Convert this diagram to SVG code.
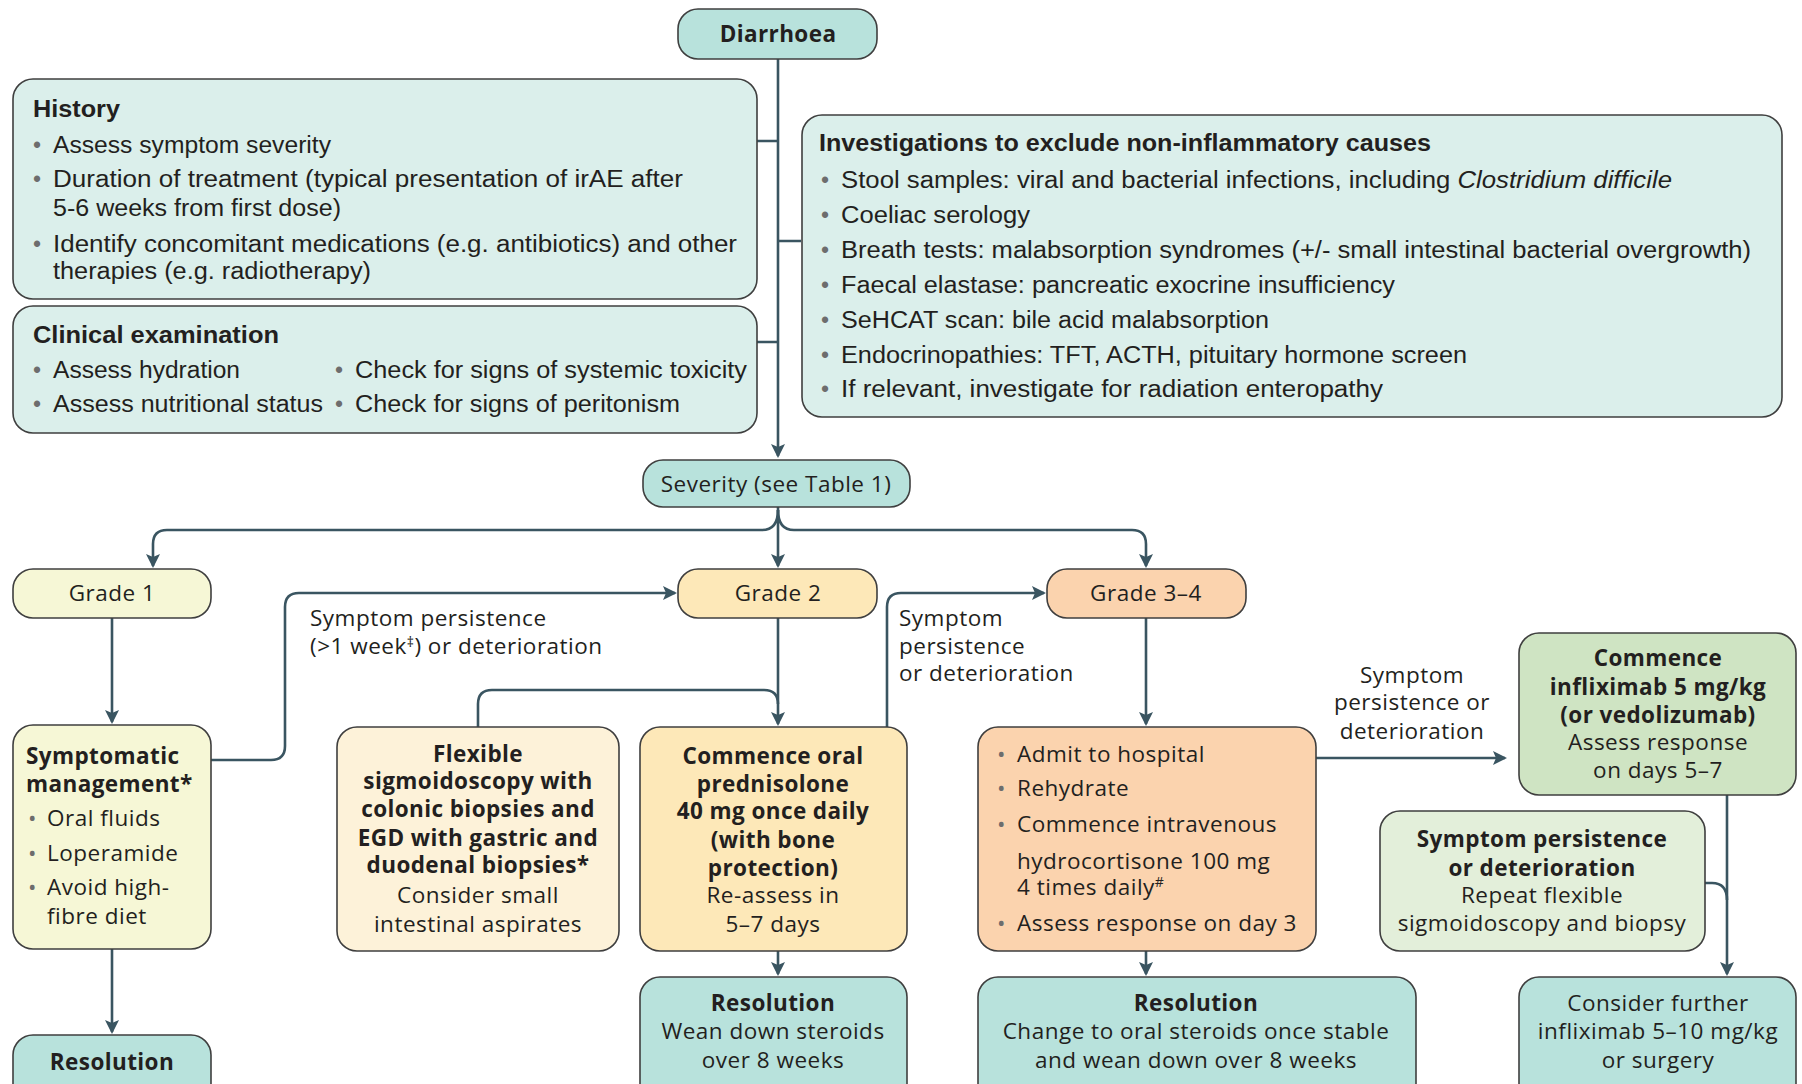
<svg xmlns="http://www.w3.org/2000/svg" width="1802" height="1084" viewBox="0 0 1802 1084">
<style>
.box{stroke:#3f3f3f;stroke-width:1.6}
.teal{fill:#b8e2dc}.lteal{fill:#dbefeb}.g1{fill:#f6f7d6}.g2{fill:#fde8b8}.flex{fill:#fdf2d9}.g3{fill:#fbd3ae}.inf{fill:#cfe4c3}.sp{fill:#e3efda}
.c{stroke:#3a5561;stroke-width:2.6;fill:none}
.t{font-family:"Liberation Sans",Arial,sans-serif;font-size:23px;fill:#231f20}
.tb{font-family:"Liberation Sans",Arial,sans-serif;font-size:23px;font-weight:bold;fill:#231f20}
.b{font-family:"Open Sans","Noto Sans",sans-serif;font-size:22.5px;letter-spacing:0.5px;fill:#231f20}
.bb{font-family:"Open Sans","Noto Sans",sans-serif;font-size:22.5px;letter-spacing:0.4px;font-weight:bold;fill:#231f20}
.m{text-anchor:middle}
.dot{fill:#6d6d6d}
</style>
<defs>
<marker id="ah" markerUnits="userSpaceOnUse" markerWidth="16" markerHeight="16" refX="12" refY="7" orient="auto">
<path d="M0,0 L14,7 L0,14 L3,7 z" fill="#3a5561"/>
</marker>
</defs>

<g id="connectors">
<path class="c" d="M778,59 V456" marker-end="url(#ah)"/>
<path class="c" d="M757,141 H778 M801,241 H778 M757,342 H778"/>
<path class="c" d="M778,507 V566" marker-end="url(#ah)"/>
<path class="c" d="M778,510 Q778,530 762,530 H167 Q153,530 153,544 V566" marker-end="url(#ah)"/>
<path class="c" d="M778,510 Q778,530 794,530 H1132 Q1146,530 1146,544 V566" marker-end="url(#ah)"/>
<path class="c" d="M112,618 V722" marker-end="url(#ah)"/>
<path class="c" d="M112,949 V1032" marker-end="url(#ah)"/>
<path class="c" d="M211,760 H271 Q285,760 285,746 V607 Q285,593 299,593 H675" marker-end="url(#ah)"/>
<path class="c" d="M778,618 V724" marker-end="url(#ah)"/>
<path class="c" d="M478,727 V704 Q478,690 492,690 H764 Q778,690 778,704"/>
<path class="c" d="M778,951 V974" marker-end="url(#ah)"/>
<path class="c" d="M887,727 V607 Q887,593 901,593 H1044" marker-end="url(#ah)"/>
<path class="c" d="M1146,618 V724" marker-end="url(#ah)"/>
<path class="c" d="M1146,951 V974" marker-end="url(#ah)"/>
<path class="c" d="M1316,758 H1505" marker-end="url(#ah)"/>
<path class="c" d="M1727,795 V974" marker-end="url(#ah)"/>
<path class="c" d="M1705,883 H1712 Q1727,883 1727,900"/>
</g>

<g id="diarrhoea">
<rect class="box teal" x="678" y="9" width="199" height="50" rx="20"/>
<text class="bb m" x="778" y="42">Diarrhoea</text>
</g>

<g id="history">
<rect class="box lteal" x="13" y="79" width="744" height="220" rx="20"/>
<text class="tb" x="33" y="117" textLength="87" lengthAdjust="spacingAndGlyphs">History</text>
<text class="t dot" x="33" y="153">•</text><text class="t" x="53" y="153" textLength="278" lengthAdjust="spacingAndGlyphs">Assess symptom severity</text>
<text class="t dot" x="33" y="187">•</text><text class="t" x="53" y="187" textLength="630" lengthAdjust="spacingAndGlyphs">Duration of treatment (typical presentation of irAE after</text>
<text class="t" x="53" y="216" textLength="288" lengthAdjust="spacingAndGlyphs">5-6 weeks from first dose)</text>
<text class="t dot" x="33" y="252">•</text><text class="t" x="53" y="252" textLength="684" lengthAdjust="spacingAndGlyphs">Identify concomitant medications (e.g. antibiotics) and other</text>
<text class="t" x="53" y="279" textLength="318" lengthAdjust="spacingAndGlyphs">therapies (e.g. radiotherapy)</text>
</g>

<g id="clinical">
<rect class="box lteal" x="13" y="306" width="744" height="127" rx="20"/>
<text class="tb" x="33" y="343" textLength="246" lengthAdjust="spacingAndGlyphs">Clinical examination</text>
<text class="t dot" x="33" y="378">•</text><text class="t" x="53" y="378" textLength="187" lengthAdjust="spacingAndGlyphs">Assess hydration</text>
<text class="t dot" x="335" y="378">•</text><text class="t" x="355" y="378" textLength="392" lengthAdjust="spacingAndGlyphs">Check for signs of systemic toxicity</text>
<text class="t dot" x="33" y="412">•</text><text class="t" x="53" y="412" textLength="270" lengthAdjust="spacingAndGlyphs">Assess nutritional status</text>
<text class="t dot" x="335" y="412">•</text><text class="t" x="355" y="412" textLength="325" lengthAdjust="spacingAndGlyphs">Check for signs of peritonism</text>
</g>

<g id="investigations">
<rect class="box lteal" x="802" y="115" width="980" height="302" rx="20"/>
<text class="tb" x="819" y="151" textLength="612" lengthAdjust="spacingAndGlyphs">Investigations to exclude non-inflammatory causes</text>
<text class="t dot" x="821" y="188">•</text><text class="t" x="841" y="188" textLength="831" lengthAdjust="spacingAndGlyphs">Stool samples: viral and bacterial infections, including <tspan font-style="italic">Clostridium difficile</tspan></text>
<text class="t dot" x="821" y="223">•</text><text class="t" x="841" y="223" textLength="189" lengthAdjust="spacingAndGlyphs">Coeliac serology</text>
<text class="t dot" x="821" y="258">•</text><text class="t" x="841" y="258" textLength="910" lengthAdjust="spacingAndGlyphs">Breath tests: malabsorption syndromes (+/- small intestinal bacterial overgrowth)</text>
<text class="t dot" x="821" y="293">•</text><text class="t" x="841" y="293" textLength="554" lengthAdjust="spacingAndGlyphs">Faecal elastase: pancreatic exocrine insufficiency</text>
<text class="t dot" x="821" y="328">•</text><text class="t" x="841" y="328" textLength="428" lengthAdjust="spacingAndGlyphs">SeHCAT scan: bile acid malabsorption</text>
<text class="t dot" x="821" y="363">•</text><text class="t" x="841" y="363" textLength="626" lengthAdjust="spacingAndGlyphs">Endocrinopathies: TFT, ACTH, pituitary hormone screen</text>
<text class="t dot" x="821" y="397">•</text><text class="t" x="841" y="397" textLength="542" lengthAdjust="spacingAndGlyphs">If relevant, investigate for radiation enteropathy</text>
</g>

<g id="severity">
<rect class="box teal" x="643" y="460" width="267" height="47" rx="20"/>
<text class="b m" x="776" y="492">Severity (see Table 1)</text>
</g>

<g id="grade1">
<rect class="box g1" x="13" y="569" width="198" height="49" rx="20"/>
<text class="b m" x="112" y="601">Grade 1</text>
</g>
<g id="grade2">
<rect class="box g2" x="678" y="569" width="199" height="49" rx="20"/>
<text class="b m" x="778" y="601">Grade 2</text>
</g>
<g id="grade34">
<rect class="box g3" x="1047" y="569" width="199" height="49" rx="20"/>
<text class="b m" x="1146" y="601">Grade 3–4</text>
</g>

<g id="label1">
<text class="b" x="310" y="626">Symptom persistence</text>
<text class="b" x="310" y="654">(&gt;1 week<tspan font-size="14" dy="-7">‡</tspan><tspan dy="7">) or deterioration</tspan></text>
</g>
<g id="label2">
<text class="b" x="899" y="626">Symptom</text>
<text class="b" x="899" y="654">persistence</text>
<text class="b" x="899" y="681">or deterioration</text>
</g>
<g id="label3">
<text class="b m" x="1412" y="683">Symptom</text>
<text class="b m" x="1412" y="710">persistence or</text>
<text class="b m" x="1412" y="739">deterioration</text>
</g>

<g id="symptomatic">
<rect class="box g1" x="13" y="725" width="198" height="224" rx="20"/>
<text class="bb" x="26" y="764">Symptomatic</text>
<text class="bb" x="26" y="792">management*</text>
<text class="b dot" x="28" y="826">•</text><text class="b" x="47" y="826">Oral fluids</text>
<text class="b dot" x="28" y="861">•</text><text class="b" x="47" y="861">Loperamide</text>
<text class="b dot" x="28" y="895">•</text><text class="b" x="47" y="895">Avoid high-</text>
<text class="b" x="47" y="924">fibre diet</text>
</g>

<g id="resolution1">
<rect class="box teal" x="13" y="1035" width="198" height="70" rx="20"/>
<text class="bb m" x="112" y="1070">Resolution</text>
</g>

<g id="flexible">
<rect class="box flex" x="337" y="727" width="282" height="224" rx="20"/>
<text class="bb m" x="478" y="762">Flexible</text>
<text class="bb m" x="478" y="789">sigmoidoscopy with</text>
<text class="bb m" x="478" y="817">colonic biopsies and</text>
<text class="bb m" x="478" y="846">EGD with gastric and</text>
<text class="bb m" x="478" y="873">duodenal biopsies*</text>
<text class="b m" x="478" y="903">Consider small</text>
<text class="b m" x="478" y="932">intestinal aspirates</text>
</g>

<g id="prednisolone">
<rect class="box g2" x="640" y="727" width="267" height="224" rx="20"/>
<text class="bb m" x="773" y="764">Commence oral</text>
<text class="bb m" x="773" y="792">prednisolone</text>
<text class="bb m" x="773" y="819">40 mg once daily</text>
<text class="bb m" x="773" y="848">(with bone</text>
<text class="bb m" x="773" y="876">protection)</text>
<text class="b m" x="773" y="903">Re-assess in</text>
<text class="b m" x="773" y="932">5–7 days</text>
</g>

<g id="resolution2">
<rect class="box teal" x="640" y="977" width="267" height="128" rx="20"/>
<text class="bb m" x="773" y="1011">Resolution</text>
<text class="b m" x="773" y="1039">Wean down steroids</text>
<text class="b m" x="773" y="1068">over 8 weeks</text>
</g>

<g id="admit">
<rect class="box g3" x="978" y="727" width="338" height="224" rx="20"/>
<text class="b dot" x="997" y="762">•</text><text class="b" x="1017" y="762">Admit to hospital</text>
<text class="b dot" x="997" y="796">•</text><text class="b" x="1017" y="796">Rehydrate</text>
<text class="b dot" x="997" y="832">•</text><text class="b" x="1017" y="832">Commence intravenous</text>
<text class="b" x="1017" y="869">hydrocortisone 100 mg</text>
<text class="b" x="1017" y="895">4 times daily<tspan font-size="14" dy="-8">#</tspan></text>
<text class="b dot" x="997" y="931">•</text><text class="b" x="1017" y="931">Assess response on day 3</text>
</g>

<g id="resolution3">
<rect class="box teal" x="978" y="977" width="438" height="128" rx="20"/>
<text class="bb m" x="1196" y="1011">Resolution</text>
<text class="b m" x="1196" y="1039">Change to oral steroids once stable</text>
<text class="b m" x="1196" y="1068">and wean down over 8 weeks</text>
</g>

<g id="infliximab">
<rect class="box inf" x="1519" y="633" width="277" height="162" rx="20"/>
<text class="bb m" x="1658" y="666">Commence</text>
<text class="bb m" x="1658" y="695">infliximab 5 mg/kg</text>
<text class="bb m" x="1658" y="723">(or vedolizumab)</text>
<text class="b m" x="1658" y="750">Assess response</text>
<text class="b m" x="1658" y="778">on days 5–7</text>
</g>

<g id="persistence">
<rect class="box sp" x="1380" y="811" width="325" height="140" rx="20"/>
<text class="bb m" x="1542" y="847">Symptom persistence</text>
<text class="bb m" x="1542" y="876">or deterioration</text>
<text class="b m" x="1542" y="903">Repeat flexible</text>
<text class="b m" x="1542" y="931">sigmoidoscopy and biopsy</text>
</g>

<g id="further">
<rect class="box teal" x="1519" y="977" width="277" height="128" rx="20"/>
<text class="b m" x="1658" y="1011">Consider further</text>
<text class="b m" x="1658" y="1039">infliximab 5–10 mg/kg</text>
<text class="b m" x="1658" y="1068">or surgery</text>
</g>
</svg>
